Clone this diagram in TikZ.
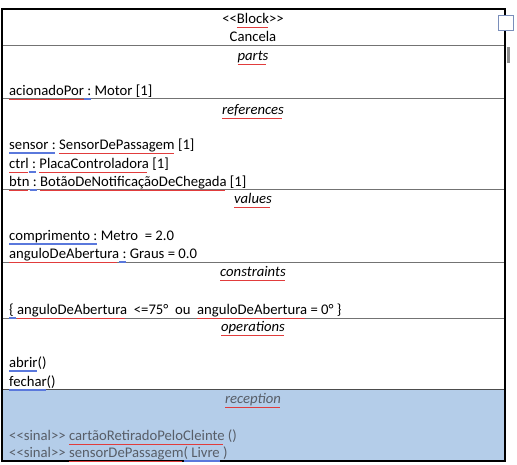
\documentclass[tikz,border=0pt]{standalone}
\usepackage{fontspec}
\setmainfont{Carlito}
\usetikzlibrary{positioning}
\definecolor{recfill}{RGB}{180,205,233}
\definecolor{rectext}{RGB}{88,94,104}
\definecolor{portedge}{RGB}{122,142,186}
\definecolor{gramblue}{RGB}{90,120,220}
\definecolor{spellred}{RGB}{225,60,60}
\newcommand\dfont{\fontsize{14.7}{17.5}\selectfont}
\newsavebox\wordbox
\newcommand\spell[1]{\sbox\wordbox{#1}\rlap{\color{spellred}\leaders\hbox{\rule[-3.2pt]{1.2pt}{0.45pt}\rule[-3.9pt]{1.2pt}{0.45pt}}\hskip\wd\wordbox}\usebox\wordbox}
\newcommand\gram[1]{\sbox\wordbox{#1}\rlap{\color{gramblue}\leaders\hbox{\rule[-2.6pt]{1pt}{0.5pt}\llap{\rule[-4pt]{1pt}{0.5pt}}}\hskip\wd\wordbox}\usebox\wordbox}

\begin{document}
\begin{tikzpicture}[x=1pt, y=-1pt,
  every node/.style={font=\dfont, inner sep=0pt},
  ttl/.style={anchor=mid, yshift=-2.5pt},
  hdr/.style={ttl, font=\dfont\itshape},
  item/.style={anchor=mid west, yshift=-2.5pt},
  sep/.style={draw=black!55, line width=1pt}]
\useasboundingbox (0,0) rectangle (517,465);

% reception compartment
\fill[recfill] (2,389) rectangle (505,461);

% compartments
\draw[sep] (2,46) -- (505,46);
\draw[sep] (2,99) -- (505,99);
\draw[sep] (2,190) -- (505,190);
\draw[sep] (2,263) -- (505,263);
\draw[sep] (2,318) -- (505,318);
\draw[draw=black!70, line width=1pt] (2,389) -- (505,389);
\draw[line width=1.5pt] (2,9) rectangle (505,461);
\fill[black!45] (507,47) rectangle (510,63);
\node[draw=portedge, fill=white, line width=1pt, minimum size=15pt] (port) at (505.5,23.5) {};

% header
\node[ttl] (stereo) at (253,19) {{<}{<}\spell{Block}{>}{>}};
\node[ttl] (cancela) at (253,37) {Cancela};

% parts
\node[hdr] (parts) at (253,56) {\spell{parts}};
\node[item] (acionado) at (9,91) {\spell{acionadoPor}\gram{ :} Motor [1]};

% references
\node[hdr] (refs) at (253,110) {\spell{references}};
\node[item] (sensor) at (9,145) {\gram{sensor :} \spell{SensorDePassagem} [1]};
\node[item] (ctrl) at (9,164) {\spell{ctrl}\gram{ :} \spell{PlacaControladora} [1]};
\node[item] (btn) at (9,182) {\spell{btn}\gram{ :} \spell{BotãoDeNotificaçãoDeChegada} [1]};

% values
\node[hdr] (values) at (253,199) {\spell{values}};
\node[item] (compr) at (9,236) {\gram{comprimento :} Metro \ = 2.0};
\node[item] (angulo) at (9,254) {\spell{anguloDeAbertura}\gram{ :} Graus = 0.0};

% constraints
\node[hdr] (constr) at (253,272) {\spell{constraints}};
\node[item] (regra) at (9,310) {\gram{\{ }\spell{anguloDeAbertura} \ {<}=75° \ ou \ \spell{anguloDeAbertura} = 0° \}};

% operations
\node[hdr] (ops) at (253,327) {\spell{operations}};
\node[item] (abrir) at (9,363) {\gram{abrir}()};
\node[item] (fechar) at (9,382) {\gram{fechar}()};

% reception
\node[hdr, text=rectext] (recep) at (253,399) {\spell{reception}};
\node[item, text=rectext] (sinal1) at (9,436) {{<}{<}sinal{>}{>} \spell{cartãoRetiradoPeloCleinte} ()};
\node[item, text=rectext] (sinal2) at (9,453) {{<}{<}sinal{>}{>} \spell{sensorDePassagem}\gram{( Livre} )};
\end{tikzpicture}
\end{document}
